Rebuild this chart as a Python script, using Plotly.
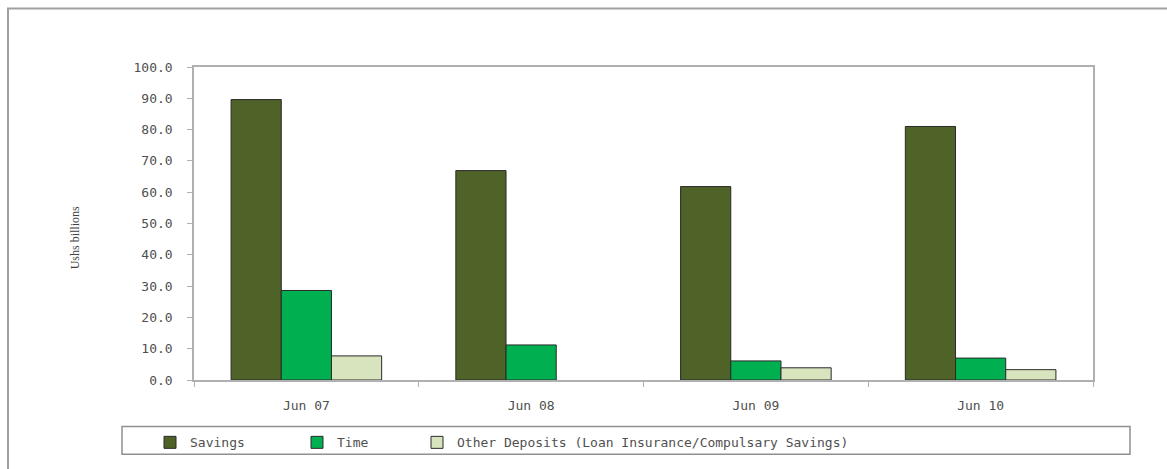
import plotly.graph_objects as go

categories = ["Jun 07", "Jun 08", "Jun 09", "Jun 10"]
savings = [89.6, 66.9, 61.8, 81.0]
time_dep = [28.6, 11.2, 6.1, 7.0]
other_dep = [7.7, None, 3.9, 3.3]
series_names = ["Savings", "Time", "Other Deposits (Loan Insurance/Compulsary Savings)"]
y_ticks = [0, 10, 20, 30, 40, 50, 60, 70, 80, 90, 100]

W, H = 1167, 469
L, R, T, B = 194, 1093, 67, 383
pw, ph = R - L, B - T

def px(x):
    return (x - L) / pw

def py(y):
    return (B - y) / ph

font_main = dict(family="DejaVu Sans Mono", size=13, color="#505050")

fig = go.Figure()
colors = ["#4F6228", "#00B050", "#D7E4BD"]
legend_ids = ["legend", "legend2", "legend3"]
for name, vals, c, lg in zip(series_names, [savings, time_dep, other_dep], colors, legend_ids):
    fig.add_trace(go.Bar(
        x=categories, y=vals, name=name, legend=lg,
        marker=dict(color=c, line=dict(color="#2a2a2a", width=1)),
    ))

leg_common = dict(orientation="h", xanchor="left", yanchor="middle", y=py(446),
                  font=font_main, bgcolor="rgba(0,0,0,0)", itemwidth=30)
text_starts = [188, 335, 455]
fig.update_layout(
    width=W, height=H,
    margin=dict(l=L, r=W - R, t=T, b=H - B),
    paper_bgcolor="white", plot_bgcolor="white",
    barmode="group", bargap=0.33, bargroupgap=0,
    showlegend=True,
    legend=dict(x=px(text_starts[0] - 38), **leg_common),
    legend2=dict(x=px(text_starts[1] - 38), **leg_common),
    legend3=dict(x=px(text_starts[2] - 38), **leg_common),
    font=font_main,
)
fig.update_xaxes(
    showline=True, linecolor="#b0b0b0", linewidth=1.5, mirror=True,
    ticks="outside", tickson="boundaries", ticklen=5, tickcolor="#b0b0b0",
    showgrid=False, tickfont=font_main, automargin=False, ticklabelstandoff=13,
)
fig.update_yaxes(
    range=[0, 100], tickvals=y_ticks, tickformat=".1f",
    showline=True, linecolor="#b0b0b0", linewidth=1.5, mirror=True,
    ticks="outside", ticklen=5, tickcolor="#b0b0b0",
    showgrid=False, zeroline=False, tickfont=font_main, automargin=False,
    ticklabelstandoff=12,
)
fig.add_annotation(
    text="Ushs billions", xref="paper", yref="paper",
    x=px(66), y=py(240), showarrow=False, textangle=-90,
    font=dict(family="Liberation Serif", size=12, color="#404040"),
)
# outer chart border
fig.add_shape(type="rect", xref="paper", yref="paper",
              x0=px(8), x1=px(1180), y0=py(480), y1=py(8),
              line=dict(color="#a0a0a0", width=2), fillcolor="rgba(0,0,0,0)", layer="below")
# legend box
fig.add_shape(type="rect", xref="paper", yref="paper",
              x0=px(122), x1=px(1130), y0=py(458), y1=py(430),
              line=dict(color="#909090", width=1.5), fillcolor="rgba(0,0,0,0)")

fig.write_html("out.html")
